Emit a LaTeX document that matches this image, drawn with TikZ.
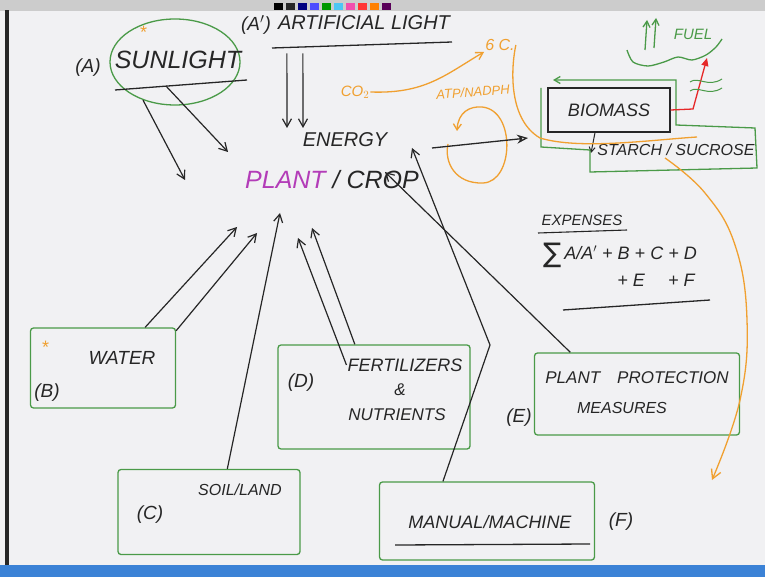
\documentclass[tikz,border=0pt]{standalone}
\usepackage{fontspec}
\setmainfont{Liberation Sans}
\newfontfamily\symbolfont{DejaVu Sans}
\usepackage{tikz}
\usepackage{xcolor}
\usetikzlibrary{arrows.meta,shapes.geometric}
\definecolor{ink}{HTML}{262626}
\definecolor{boardgreen}{HTML}{4A9A48}
\definecolor{chalkorange}{HTML}{F0A030}
\definecolor{plantpurple}{HTML}{B33CB8}
\definecolor{fuelred}{HTML}{E62828}
\definecolor{board}{HTML}{F1F1F3}
\definecolor{taskbar}{HTML}{3B82D6}
\newcommand{\handfont}[1]{\fontsize{#1}{#1}\selectfont\itshape}

\begin{document}
\begin{tikzpicture}[x=1pt,y=-1pt,
  txt/.style={inner sep=1pt,text=ink},
  inkline/.style={ink,line width=1.3pt},
  arr/.style={ink,line width=1.2pt,-{Straight Barb[length=8pt,width=9pt]}},
  grn/.style={boardgreen,line width=1.3pt},
  orng/.style={chalkorange,line width=1.3pt},
  greenbox/.style={draw=boardgreen,line width=1.3pt,rounded corners=3pt,inner sep=0pt}]
        \fill[board] (0,0) rectangle (765,577);
        \useasboundingbox (0,0) rectangle (765,577);
        \fill[gray!40] (0,0) rectangle (765,11);
        \foreach \c [count=\i] in {black,ink,blue!50!black,blue!70,green!60!black,cyan!70,magenta!70,red!80,orange,violet!70!black} {
          \fill[\c] (262+\i*12,3) rectangle ++(9,7);
        }
        \fill[ink] (5,10) rectangle (9,565);
        \fill[taskbar] (0,565) rectangle (765,577);

        % energy sources
        \node[ellipse,draw=boardgreen,line width=1.3pt,minimum width=130,minimum height=86,inner sep=0pt] (sunring) at (175,62) {};
        \node[txt,font=\handfont{25}] (sun) at (178,60) {SUNLIGHT};
        \node[txt,font=\handfont{19}] (labA) at (88,68) {(A)};
        \node[txt,text=chalkorange,font=\handfont{18}] (sunstar) at (143,32) {*};
        \draw[inkline] (115,90) -- (247,80);
        \node[txt,font=\handfont{20}] (art) at (364,23) {ARTIFICIAL LIGHT};
        \node[txt,font=\handfont{19}] (labAp) at (256,25) {(A$'$)};
        \draw[inkline] (272,48) -- (452,42);

        \node[txt,font=\handfont{20}] (energy) at (345,140) {ENERGY};
        \node[txt,font=\handfont{25}] (plant) at (332,180) {\textcolor{plantpurple}{PLANT} / CROP};

        % inputs
        \node[greenbox,minimum width=145,minimum height=80] (water) at (103,368) {};
        \node[txt,font=\handfont{19}] (waterlbl) at (122,358) {WATER};
        \node[txt,font=\handfont{19}] (labB) at (47,393) {(B)};
        \node[txt,text=chalkorange,font=\handfont{18}] (waterstar) at (45,347) {*};

        \node[greenbox,minimum width=182,minimum height=85] (soil) at (209,512) {};
        \node[txt,font=\handfont{16}] (soillbl) at (240,490) {SOIL/LAND};
        \node[txt,font=\handfont{19}] (labC) at (150,515) {(C)};

        \node[greenbox,minimum width=192,minimum height=104] (fert) at (374,397) {};
        \node[txt,font=\handfont{18}] (fertlbl) at (405,365) {FERTILIZERS};
        \node[txt,font=\handfont{17}] (andlbl) at (400,390) {\&};
        \node[txt,font=\handfont{17}] (nutlbl) at (397,415) {NUTRIENTS};
        \node[txt,font=\handfont{19}] (labD) at (301,383) {(D)};

        \node[greenbox,minimum width=215,minimum height=78] (manual) at (487,521) {};
        \node[txt,font=\handfont{18}] (manlbl) at (490,522) {MANUAL/MACHINE};
        \draw[inkline] (395,545) -- (590,544);
        \node[txt,font=\handfont{19}] (labF) at (621,522) {(F)};

        \node[greenbox,minimum width=205,minimum height=82] (prot) at (637,394) {};
        \node[txt,font=\handfont{17}] (protlbl) at (637,378) {PLANT\quad PROTECTION};
        \node[txt,font=\handfont{16}] (measlbl) at (622,408) {MEASURES};
        \node[txt,font=\handfont{19}] (labE) at (519,418) {(E)};

        \coordinate (s1) at (185,180);
        \coordinate (s2) at (228,152);
        \coordinate (a1) at (287,128);
        \coordinate (a2) at (303,128);
        \coordinate (w1) at (237,227);
        \coordinate (w2) at (257,233);
        \coordinate (c1) at (280,213);
        \coordinate (f1) at (298,238);
        \coordinate (f2) at (312,228);
        \coordinate (mbend) at (490,345);
        \coordinate (m1) at (412,148);
        \coordinate (p1) at (385,172);

        \draw[arr] (sunring.230) -- (s1);
        \draw[arr] ([shift={(-12pt,-16pt)}]sun.south) -- (s2);
        \draw[arr] ([shift={(10pt,-22pt)}]art.south west) -- (a1);
        \draw[arr] ([shift={(26pt,-22pt)}]art.south west) -- (a2);
        \draw[arr] (water.44) -- (w1);
        \draw[arr] (water.27) -- (w2);
        \draw[arr] (soil.67) -- (c1);
        \draw[arr] (fertlbl.west) -- (f1);
        \draw[arr] (fert.110) -- (f2);
        \draw[arr] (manual.138) -- (mbend) -- (m1);
        \draw[arr] (prot.148) -- (p1);

        % photosynthesis side
        \node[txt,text=chalkorange,font=\handfont{15}] (co2) at (355,92) {CO$_2$};
        \node[txt,text=chalkorange,font=\handfont{16}] (sixc) at (500,45) {6 C.};
        \node[txt,text=chalkorange,font=\handfont{13},rotate=4] (atp) at (473,92) {ATP/NADPH};
        \draw[orng,-{Straight Barb[length=7pt,width=8pt]}] (co2.east) .. controls (425,94) and (445,75) .. (sixc.south west);
        \draw[orng,{Straight Barb[length=6pt,width=8pt]}-] (457,131) .. controls (458,112) and (470,106) .. (482,107) .. controls (516,110) and (514,182) .. (483,183) .. controls (455,184) and (444,162) .. (448,144);

        \node[draw=ink,line width=1.3pt,minimum width=122,minimum height=44,inner sep=0pt,font=\handfont{18},text=ink] (bio) at (609,110) {BIOMASS};
        \node[txt,font=\handfont{16}] (starch) at (676,150) {STARCH / SUCROSE};
        \coordinate (stip) at (591,153);
        \draw[ink,line width=1pt,-{Straight Barb[length=5pt,width=6pt]}] ([xshift=-14pt]bio.south) -- (stip);
        \draw[grn,-{Straight Barb[length=6pt,width=7pt]}] (541,88) -- (541,147) -- (590,150) -- (590,172) -- (757,168) -- (755,128) -- (676,125) -- (676,80) -- (553,80);
        \draw[orng] (sixc.east) .. controls (512,62) and (506,118) .. (540,138) .. controls (580,150) and (650,140) .. (697,137);
        \draw[orng,-{Straight Barb[length=9pt,width=10pt]}] plot[smooth,tension=0.7] coordinates {(665,158) (705,193) (735,245) (747,320) (740,400) (712,480)};

        \coordinate (e0) at (432,148);
        \coordinate (e1) at (528,138);
        \draw[ink,line width=1.3pt,-{Stealth[length=11pt,width=9pt,open]}] (e0) -- (e1);

        % fuel
        \node[txt,text=boardgreen,font=\handfont{15}] (fuel) at (693,34) {FUEL};
        \coordinate (fuelup) at (707,58);
        \draw[fuelred,line width=1.3pt,-{Triangle[length=8pt,width=7pt]}] (bio.east) -- (693,109) -- (fuelup);
        \draw[grn,line width=1pt] (690,82) .. controls (698,76) and (708,88) .. (722,79);
        \draw[grn,line width=1pt] (690,91) .. controls (698,85) and (708,97) .. (722,88);
        \draw[grn,-{Straight Barb[length=6pt,width=7pt]}] (645,50) -- (647,20);
        \draw[grn,-{Straight Barb[length=6pt,width=7pt]}] (654,48) -- (656,18);
        \draw[grn] plot[smooth] coordinates {(627,50) (633,62) (648,66) (664,62) (678,57) (692,60) (706,55) (716,47) (722,39)};

        % expenses
        \node[txt,font=\handfont{15}] (exp) at (582,220) {EXPENSES};
        \draw[inkline,line width=1.1pt] (538,233) -- (627,230);
        \node[txt,font=\handfont{18}] (sum1) at (620,255) {\raisebox{-3pt}{\symbolfont\fontsize{27}{27}\selectfont ∑}\,A/A$'$ + B + C + D};
        \node[txt,font=\handfont{18}] (sum2) at (656,280) {+ E \quad + F};
        \draw[inkline] (563,310) -- (710,300);
\end{tikzpicture}
\end{document}
